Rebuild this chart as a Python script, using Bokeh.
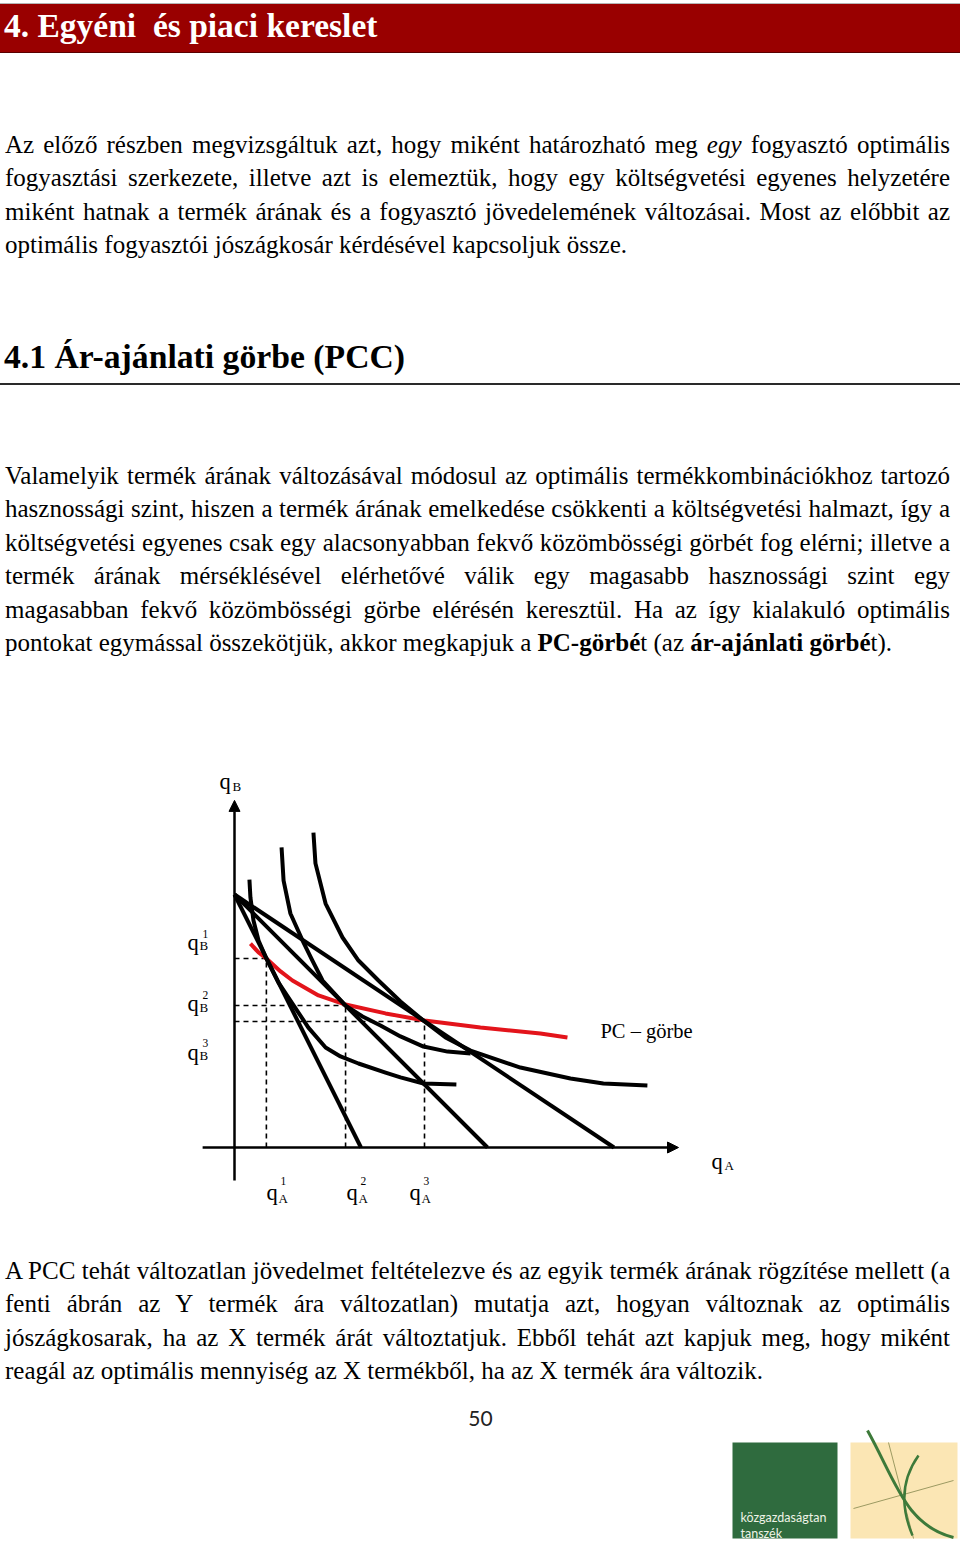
from bokeh.plotting import figure
from bokeh.models import Div, Range1d, Arrow, NormalHead
from bokeh.layouts import column
from bokeh.core.properties import value
from bokeh.embed import file_html
from bokeh.resources import INLINE

# ---------------- diagram data (q_A horizontal, q_B vertical) ----------------
B_INTERCEPT = 10.0                     # all budget lines start here on the q_B axis
A_INTERCEPTS = [5.0, 10.0, 15.0]       # budget line ends on the q_A axis (price of A falls)
OPT_QA = [1.26, 4.39, 7.51]            # optimal baskets
OPT_QB = [7.47, 5.61, 4.98]

IC1_QA = [0.59, 0.63, 0.75, 0.95, 1.26, 1.74, 2.29, 2.92, 3.60, 4.19, 4.90, 5.97, 6.56, 7.47, 8.77]
IC1_QB = [10.59, 9.88, 8.97, 8.18, 7.47, 6.52, 5.69, 4.74, 3.95, 3.60, 3.32, 2.96, 2.77, 2.53, 2.49]
IC2_QA = [1.86, 1.94, 2.21, 2.69, 3.08, 3.48, 4.39, 5.06, 5.77, 6.56, 7.47, 8.42, 9.33]
IC2_QB = [11.86, 10.55, 9.25, 8.18, 7.39, 6.60, 5.61, 5.18, 4.82, 4.39, 3.99, 3.79, 3.72]
IC3_QA = [3.12, 3.20, 3.60, 4.27, 4.90, 5.69, 6.56, 7.51, 8.34, 9.33, 11.30, 13.28, 14.58, 16.32]
IC3_QB = [12.45, 11.23, 9.64, 8.30, 7.39, 6.60, 5.77, 4.98, 4.35, 3.83, 3.16, 2.73, 2.53, 2.45]
PCC_QA = [0.63, 0.95, 1.26, 1.82, 2.29, 3.32, 4.39, 5.97, 7.51, 9.72, 12.09, 13.16]
PCC_QB = [8.06, 7.71, 7.47, 6.96, 6.60, 6.01, 5.65, 5.30, 5.02, 4.74, 4.51, 4.35]

SUPERSCRIPTS = ["1", "2", "3"]
AXIS_A_SUB = "A"
AXIS_B_SUB = "B"
PCC_LABEL = "PC – görbe"

# ---------------- page texts ----------------
HEADER = "4. Egyéni&nbsp; és piaci kereslet"
HEADING = "4.1 Ár-ajánlati görbe (PCC)"
PARA1 = [
    "Az előző részben megvizsgáltuk azt, hogy miként határozható meg <i>egy</i> fogyasztó optimális",
    "fogyasztási szerkezete, illetve azt is elemeztük, hogy egy költségvetési egyenes helyzetére",
    "miként hatnak a termék árának és a fogyasztó jövedelemének változásai. Most az előbbit az",
    "optimális fogyasztói jószágkosár kérdésével kapcsoljuk össze.",
]
PARA2 = [
    "Valamelyik termék árának változásával módosul az optimális termékkombinációkhoz tartozó",
    "hasznossági szint, hiszen a termék árának emelkedése csökkenti a költségvetési halmazt, így a",
    "költségvetési egyenes csak egy alacsonyabban fekvő közömbösségi görbét fog elérni; illetve a",
    "termék árának mérséklésével elérhetővé válik egy magasabb hasznossági szint egy",
    "magasabban fekvő közömbösségi görbe elérésén keresztül. Ha az így kialakuló optimális",
    "pontokat egymással összekötjük, akkor megkapjuk a <b>PC-görbé</b>t (az <b>ár-ajánlati görbé</b>t).",
]
PARA3 = [
    "A PCC tehát változatlan jövedelmet feltételezve és az egyik termék árának rögzítése mellett (a",
    "fenti ábrán az Y termék ára változatlan) mutatja azt, hogyan változnak az optimális",
    "jószágkosarak, ha az X termék árát változtatjuk. Ebből tehát azt kapjuk meg, hogy miként",
    "reagál az optimális mennyiség az X termékből, ha az X termék ára változik.",
]
PAGE_NUMBER = "50"
LOGO_TEXT = ["közgazdaságtan", "tanszék"]

# ---------------- layout constants ----------------
W = 960
TEXT_W = 950
SERIF = "Liberation Serif"
FS = 25.0
LH = 33.4


def para_div(lines, pad_top, height):
    rows = []
    for i, ln in enumerate(lines):
        last = "left" if i == len(lines) - 1 else "justify"
        rows.append(f'<div style="text-align:justify;text-align-last:{last};">{ln}</div>')
    html = (f'<div style="font-family:\'{SERIF}\';font-size:{FS}px;line-height:{LH}px;'
            f'color:#000;padding-top:{pad_top}px;padding-left:5px;width:{TEXT_W}px;margin:0;">'
            + "".join(rows) + "</div>")
    return Div(text=html, width=W, height=height, margin=0)


header = Div(
    text=('<div style="height:3px;"></div><div style="height:1px;background:#b5b5b5;"></div>'
          f'<div style="width:{W}px;height:49px;background:#990000;border-bottom:1px solid #5a0000;'
          f'font-family:\'{SERIF}\';font-weight:bold;font-size:33.5px;line-height:33.5px;color:#fff;'
          f'padding-top:5.4px;padding-left:4px;box-sizing:border-box;white-space:nowrap;">{HEADER}</div>'),
    width=W, height=54, margin=0)

p1 = para_div(PARA1, 73.9, 236)

heading = Div(
    text=(f'<div style="padding-top:46.7px;padding-left:4px;font-family:\'{SERIF}\';font-weight:bold;'
          f'font-size:33.7px;line-height:40px;color:#000;white-space:nowrap;">{HEADING}</div>'
          f'<div style="margin-top:6.3px;width:{W}px;border-top:2px solid #2a2a2a;"></div>'),
    width=W, height=110, margin=0)

p2 = para_div(PARA2, 58.9, 290)

# ---------------- diagram ----------------
UNIT = 25.3            # px per unit
FIG_H = 540
ORIGIN_X = 234         # px from figure left
ORIGIN_Y = 457         # px from figure top
Y_TIP = 13.72
X_TIP = 17.55
Y_TAIL = -1.30
X_TAIL = -1.26

d = figure(width=W, height=FIG_H, output_backend="svg", toolbar_location=None,
           x_range=Range1d(-ORIGIN_X / UNIT, (W - ORIGIN_X) / UNIT),
           y_range=Range1d(-(FIG_H - ORIGIN_Y) / UNIT, ORIGIN_Y / UNIT),
           x_axis_location=None, y_axis_location=None, min_border=0,
           outline_line_color=None, margin=0)
d.grid.visible = False

# dashed guide lines
d.segment(x0=OPT_QA, y0=[0] * 3, x1=OPT_QA, y1=OPT_QB, line_color="black", line_width=1.6, line_dash="5 4")
d.segment(x0=[0] * 3, y0=OPT_QB, x1=OPT_QA, y1=OPT_QB, line_color="black", line_width=1.6, line_dash="5 4")

# axes with arrows
d.add_layout(Arrow(x_start=0, y_start=Y_TAIL, x_end=0, y_end=Y_TIP, line_width=2.5, line_color="black",
                   end=NormalHead(size=11, fill_color="black", line_color="black", line_width=1)))
d.add_layout(Arrow(x_start=X_TAIL, y_start=0, x_end=X_TIP, y_end=0, line_width=2.5, line_color="black",
                   end=NormalHead(size=11, fill_color="black", line_color="black", line_width=1)))

# PCC
d.line(PCC_QA, PCC_QB, line_color="#e3141b", line_width=4, line_join="round")

# budget lines
d.segment(x0=[0] * 3, y0=[B_INTERCEPT] * 3, x1=A_INTERCEPTS, y1=[0] * 3, line_color="black", line_width=4)

# indifference curves
for xs, ys in [(IC1_QA, IC1_QB), (IC2_QA, IC2_QB), (IC3_QA, IC3_QB)]:
    d.line(xs, ys, line_color="black", line_width=4, line_join="round")


def at(ax, ay, dx, dy):
    return ax + dx / UNIT, ay - dy / UNIT


def lbl(x, y, t, size):
    d.text(x=[x], y=[y], text=[t], text_font=value(SERIF), text_font_size=value(f"{size}px"),
           text_align="left", text_baseline="alphabetic", text_color="black")


Q_FS, SUB_FS, SUP_FS = 22.5, 13, 11.5

# axis titles
lbl(*at(0, Y_TIP, -15, -19), "q", Q_FS)
lbl(*at(0, Y_TIP, -2, -14), AXIS_B_SUB, SUB_FS)
lbl(*at(X_TIP, 0, 33, 14), "q", Q_FS)
lbl(*at(X_TIP, 0, 46, 18), AXIS_A_SUB, SUB_FS)

# q_B^i labels
QB_DY = [(-16, -25, -13), (-2, -11, 2), (31, 21, 34)]
for i in range(3):
    dq, ds, db = QB_DY[i]
    lbl(*at(0, OPT_QB[i], -47, dq), "q", Q_FS)
    lbl(*at(0, OPT_QB[i], -32, ds), SUPERSCRIPTS[i], SUP_FS)
    lbl(*at(0, OPT_QB[i], -35, db), AXIS_B_SUB, SUB_FS)

# q_A^i labels
QA_DX = [0, 1, -15]
for i in range(3):
    dx = QA_DX[i]
    lbl(*at(OPT_QA[i], 0, dx, 45), "q", Q_FS)
    lbl(*at(OPT_QA[i], 0, dx + 14, 33), SUPERSCRIPTS[i], SUP_FS)
    lbl(*at(OPT_QA[i], 0, dx + 12, 51), AXIS_A_SUB, SUB_FS)

lbl(*at(PCC_QA[-1], PCC_QB[-1], 33, -6), PCC_LABEL, 20.5)

p3 = para_div(PARA3, 23.9, 170)

# ---------------- footer ----------------
f = figure(width=W, height=148, output_backend="svg", toolbar_location=None,
           x_range=Range1d(0, 960), y_range=Range1d(1548, 1400),
           x_axis_location=None, y_axis_location=None, min_border=0,
           outline_line_color=None, margin=0)
f.grid.visible = False
f.text(x=[480], y=[1418], text=[PAGE_NUMBER], text_font=value("Lato"), text_font_size=value("21px"),
       text_align="center", text_baseline="middle", text_color="#222")
f.quad(left=[732], right=[837], top=[1442], bottom=[1538], fill_color="#2f6b3e", line_color=None)
f.quad(left=[850], right=[957], top=[1442], bottom=[1538], fill_color="#fbe6b4", line_color=None)
f.segment(x0=[853, 888], y0=[1508, 1442], x1=[953, 913], y1=[1480, 1538], line_color="#9c9a62", line_width=1)
f.bezier(x0=[867], y0=[1430], x1=[953], y1=[1537], cx0=[895], cy0=[1480], cx1=[905], cy1=[1525],
         line_color="#3d7a3a", line_width=3)
f.quadratic(x0=[918], y0=[1455], x1=[912], y1=[1535], cx=[893], cy=[1490], line_color="#3d7a3a", line_width=2.5)
f.text(x=[740, 740], y=[1517, 1533], text=LOGO_TEXT, text_font=value("Lato"), text_font_size=value("12.5px"),
       text_align="left", text_baseline="alphabetic", text_color="#eef3e6")

page = column(header, p1, heading, p2, d, p3, f, spacing=0, margin=0)

with open("out.html", "w") as fh:
    fh.write(file_html(page, INLINE))
